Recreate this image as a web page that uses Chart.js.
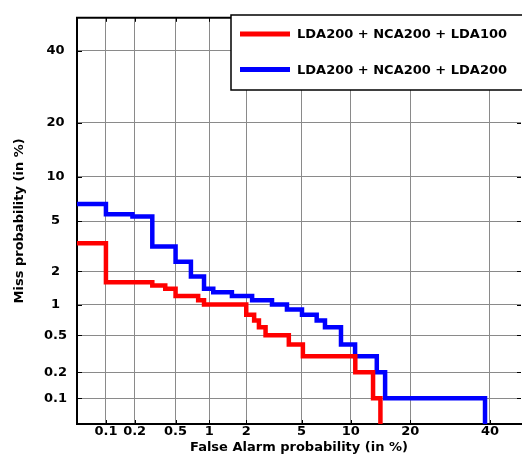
<!DOCTYPE html>
<html>
<head>
<meta charset="utf-8">
<script src="https://cdn.jsdelivr.net/npm/chart.js@4/dist/chart.umd.min.js"></script>
<style>
  html, body { margin: 0; padding: 0; background: #fff; }
  canvas { display: block; }
</style>
</head>
<body>
<canvas id="det" width="522" height="463"></canvas>
<script>
// DET curve data (in %)
const seriesNames = ['LDA200 + NCA200 + LDA100', 'LDA200 + NCA200 + LDA200'];
const seriesColors = ['#ff0000', '#0000ff'];

const redFA   = [0.04, 0.1, 0.3, 0.4, 0.5, 0.8, 0.9, 2.0, 2.3, 2.5, 2.8, 4.1, 5.1, 10.6, 13.2, 14.4];
const redMiss = [3.4,  1.6, 1.5, 1.4, 1.2, 1.1, 1.0, 0.8, 0.7, 0.6, 0.5, 0.4, 0.3, 0.2,  0.1,  0.04];

const blueFA   = [0.04, 0.1, 0.19, 0.3, 0.5, 0.69, 0.9, 1.08, 1.54, 2.22, 3.12, 3.98, 5.03, 6.26, 7.05, 8.79, 10.57, 13.8, 15.2, 38.6];
const blueMiss = [6.6,  5.6, 5.4,  3.2, 2.4, 1.8,  1.4, 1.3,  1.2,  1.1,  1.0,  0.9,  0.8,  0.7,  0.6,  0.4,  0.3,   0.2,  0.1,  0.04];

const xTickLabels = [0.1, 0.2, 0.5, 1, 2, 5, 10, 20, 40];
const yTickLabels = [0.1, 0.2, 0.5, 1, 2, 5, 10, 20, 40];

const FONT = '"DejaVu Sans", Verdana, sans-serif';

// inverse normal CDF (Acklam), used for the normal deviate axes
function probit(p) {
    const a = [-3.969683028665376e+01, 2.209460984245205e+02, -2.759285104469687e+02, 1.383577518672690e+02, -3.066479806614716e+01, 2.506628277459239e+00];
    const b = [-5.447609879822406e+01, 1.615858368580409e+02, -1.556989798598866e+02, 6.680131188771972e+01, -1.328068155288572e+01];
    const c = [-7.784894002430293e-03, -3.223964580411365e-01, -2.400758277161838e+00, -2.549732539343734e+00, 4.374664141464968e+00, 2.938163982698783e+00];
    const d = [7.784695709041462e-03, 3.224671290700398e-01, 2.445134137142996e+00, 3.754408661907416e+00];
    const pl = 0.02425;
    if (p < pl) {
        const q = Math.sqrt(-2 * Math.log(p));
        return (((((c[0]*q+c[1])*q+c[2])*q+c[3])*q+c[4])*q+c[5]) / ((((d[0]*q+d[1])*q+d[2])*q+d[3])*q+1);
    }
    if (p > 1 - pl) {
        const q = Math.sqrt(-2 * Math.log(1 - p));
        return -(((((c[0]*q+c[1])*q+c[2])*q+c[3])*q+c[4])*q+c[5]) / ((((d[0]*q+d[1])*q+d[2])*q+d[3])*q+1);
    }
    const q = p - 0.5, r = q * q;
    return (((((a[0]*r+a[1])*r+a[2])*r+a[3])*r+a[4])*r+a[5])*q / (((((b[0]*r+b[1])*r+b[2])*r+b[3])*r+b[4])*r+1);
}

const toPoints = (fa, miss) => fa.map((f, i) => ({ x: probit(f / 100), y: probit(miss[i] / 100) }));

// frame top line, inner tick marks and the boxed legend
const detFrame = {
    id: 'detFrame',
    afterDraw(chart) {
        const { ctx, chartArea: area, scales: { x, y } } = chart;
        ctx.save();
        ctx.strokeStyle = '#000';
        ctx.lineWidth = 2;
        ctx.beginPath();
        ctx.moveTo(area.left - 1, area.top);
        ctx.lineTo(area.right + 2, area.top);
        ctx.stroke();

        ctx.lineWidth = 1;
        ctx.beginPath();
        xTickLabels.forEach(v => {
            const px = Math.round(x.getPixelForValue(probit(v / 100))) + 0.5;
            ctx.moveTo(px, area.bottom); ctx.lineTo(px, area.bottom - 4);
            ctx.moveTo(px, area.top); ctx.lineTo(px, area.top + 4);
        });
        yTickLabels.forEach(v => {
            const py = Math.round(y.getPixelForValue(probit(v / 100))) + 0.5;
            ctx.moveTo(area.left, py); ctx.lineTo(area.left + 5, py);
            ctx.moveTo(area.right, py); ctx.lineTo(area.right - 4, py);
        });
        ctx.stroke();

        // legend box
        ctx.fillStyle = '#fff';
        ctx.fillRect(231, 15, 300, 75);
        ctx.lineWidth = 1.5;
        ctx.strokeRect(231, 15, 300, 75);
        chart.data.datasets.forEach((ds, i) => {
            const ly = 34 + i * 35.5;
            ctx.strokeStyle = ds.borderColor;
            ctx.lineWidth = 5;
            ctx.beginPath();
            ctx.moveTo(240, ly); ctx.lineTo(290, ly);
            ctx.stroke();
            ctx.fillStyle = '#000';
            ctx.font = 'bold 13px ' + FONT;
            ctx.textBaseline = 'middle';
            ctx.fillText(ds.label, 297, ly + 1);
        });
        ctx.restore();
    },
};

const tickFont = { family: FONT, size: 13, weight: 'bold' };

new Chart(document.getElementById('det'), {
    type: 'line',
    data: {
        datasets: [
            {
                label: seriesNames[0],
                data: toPoints(redFA, redMiss),
                borderColor: seriesColors[0],
                borderWidth: 4.5,
                pointRadius: 0,
                stepped: true,
                fill: false,
                clip: 0,
            },
            {
                label: seriesNames[1],
                data: toPoints(blueFA, blueMiss),
                borderColor: seriesColors[1],
                borderWidth: 4.5,
                pointRadius: 0,
                stepped: true,
                fill: false,
                clip: 0,
            },
        ],
    },
    options: {
        responsive: false,
        animation: false,
        devicePixelRatio: 1,
        layout: { padding: { top: 15, right: 1, left: 0, bottom: 0 } },
        plugins: {
            legend: { display: false },
            tooltip: { enabled: false },
        },
        scales: {
            x: {
                type: 'linear',
                min: -3.304,
                max: -0.024,
                afterBuildTicks: s => { s.ticks = xTickLabels.map(v => ({ value: probit(v / 100) })); },
                afterFit: s => { s.height = 39; },
                ticks: {
                    autoSkip: false,
                    maxRotation: 0,
                    padding: 0,
                    color: '#000',
                    font: tickFont,
                    callback: (v, i) => String(xTickLabels[i]),
                },
                grid: { color: '#8a8a8a', lineWidth: 1, drawTicks: false },
                border: { color: '#000', width: 2 },
                title: {
                    display: true,
                    text: 'False Alarm probability (in %)',
                    color: '#000',
                    font: tickFont,
                    padding: { top: 0, bottom: 8 },
                },
            },
            y: {
                type: 'linear',
                min: -3.301,
                max: 0.014,
                afterBuildTicks: s => { s.ticks = yTickLabels.map(v => ({ value: probit(v / 100) })); },
                afterFit: s => { s.width = 77; },
                ticks: {
                    autoSkip: false,
                    crossAlign: 'center',
                    padding: 10,
                    color: '#000',
                    font: tickFont,
                    callback: (v, i) => String(yTickLabels[i]),
                },
                grid: { color: '#8a8a8a', lineWidth: 1, drawTicks: false },
                border: { color: '#000', width: 2 },
                title: {
                    display: true,
                    text: 'Miss probability (in %)',
                    color: '#000',
                    font: tickFont,
                    padding: { top: 12, bottom: 0 },
                },
            },
        },
    },
    plugins: [detFrame],
});
</script>
</body>
</html>
